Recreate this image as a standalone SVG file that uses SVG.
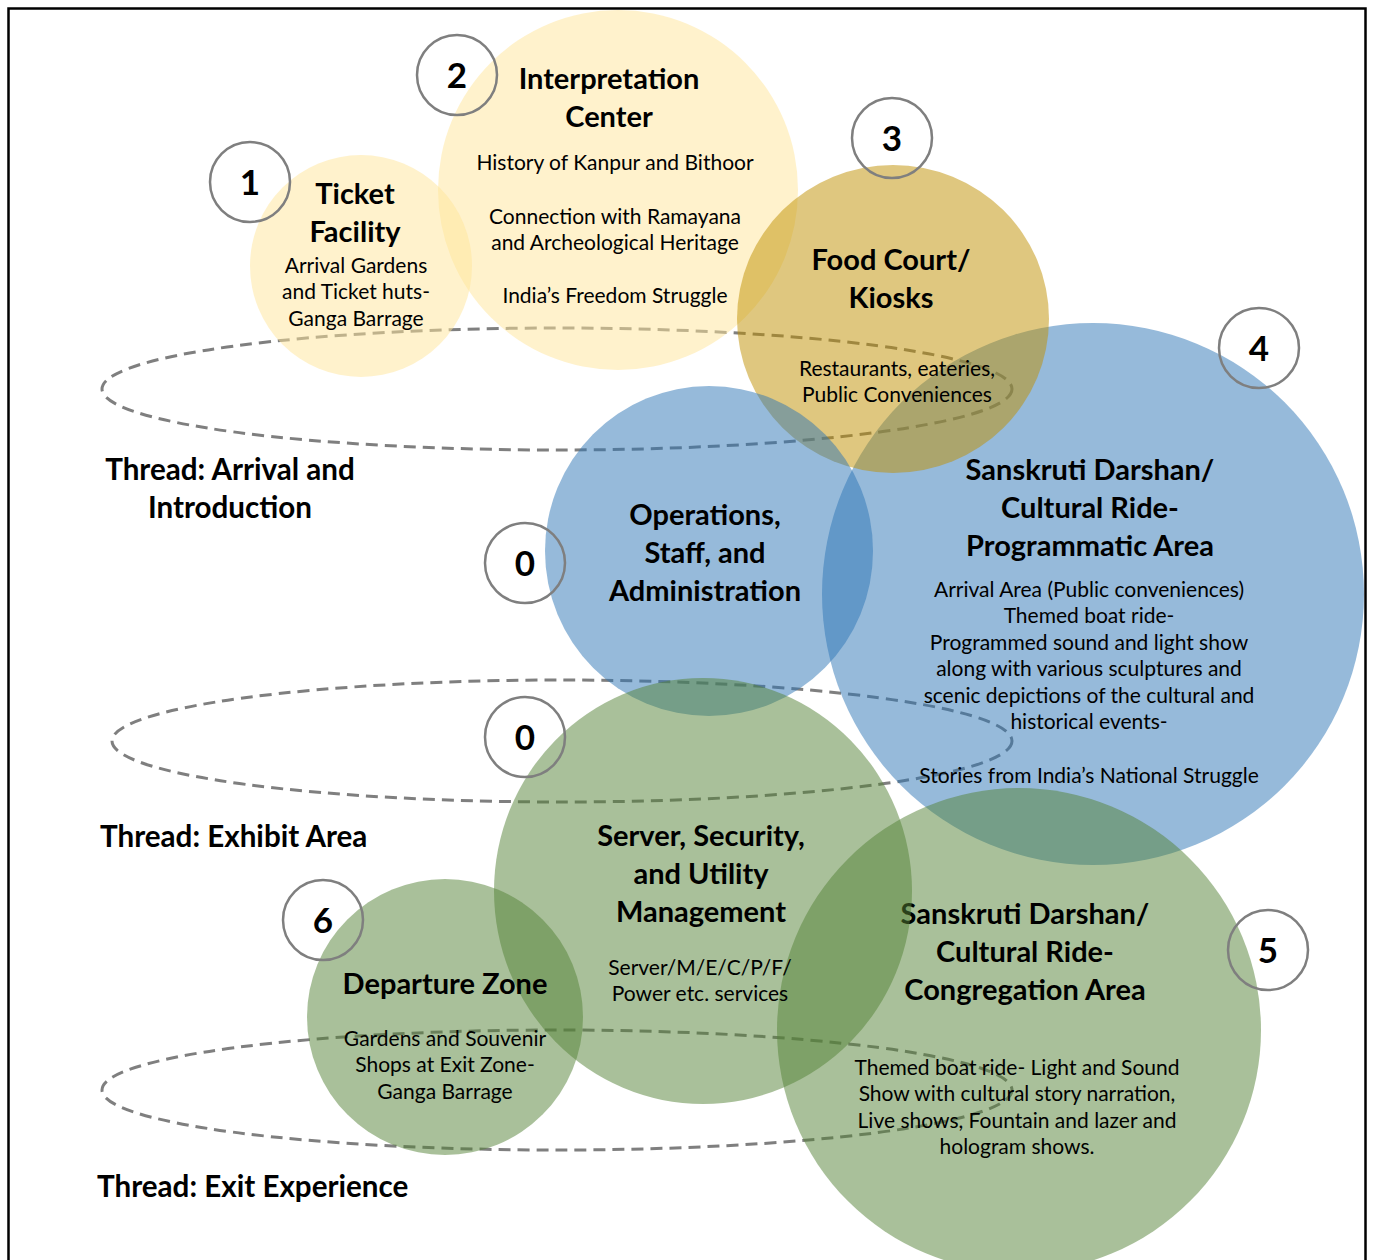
<svg xmlns="http://www.w3.org/2000/svg" width="1373" height="1260" viewBox="0 0 1373 1260">
<style>
.thr{fill:none;stroke:#7F7F7F;stroke-width:3;stroke-dasharray:12 7}
.y{fill:#FFE699;fill-opacity:.5}
.gd{fill:#BF9000;fill-opacity:.5}
.bl{fill:#2E75B6;fill-opacity:.5}
.gr{fill:#548235;fill-opacity:.5}
.num{fill:none;stroke:#7F7F7F;stroke-width:2.5}
text{font-family:Lato,"Noto Sans","Liberation Sans",sans-serif;fill:#000;text-anchor:middle}
.t{font-size:29px;font-weight:bold}
.b{font-size:21px}
.n{font-size:35px;font-weight:bold}
.lab{font-size:29.6px;font-weight:bold}
</style>
<rect x="0" y="0" width="1373" height="1260" fill="#fff"/>
<rect x="8.5" y="8.5" width="1357" height="1270" fill="none" stroke="#000" stroke-width="2.5"/>
<g id="threads">
<ellipse class="thr" cx="557" cy="389" rx="455" ry="61"/>
<ellipse class="thr" cx="562" cy="741" rx="450" ry="61"/>
<ellipse class="thr" cx="557" cy="1090" rx="455" ry="60"/>
</g>
<g id="thread-labels">
<text class="lab" x="230" y="480">Thread: Arrival and</text>
<text class="lab" x="230" y="518">Introduction</text>
<text class="lab" x="100" y="847" style="text-anchor:start">Thread: Exhibit Area</text>
<text class="lab" x="97" y="1197" style="text-anchor:start">Thread: Exit Experience</text>
</g>
<g id="node-2-interpretation">
<ellipse class="y" cx="618" cy="190" rx="180" ry="180"/>
<circle class="num" cx="457" cy="75" r="40"/>
<text class="n" x="457" y="88">2</text>
<text class="t" x="609" y="89">Interpretation</text>
<text class="t" x="609" y="127">Center</text>
<text class="b" x="615" y="170">History of Kanpur and Bithoor</text>
<text class="b" x="615" y="224">Connection with Ramayana</text>
<text class="b" x="615" y="250">and Archeological Heritage</text>
<text class="b" x="615" y="303">India’s Freedom Struggle</text>
</g>
<g id="node-1-ticket">
<ellipse class="y" cx="361" cy="266" rx="111" ry="111"/>
<circle class="num" cx="250" cy="182" r="40"/>
<text class="n" x="250" y="195">1</text>
<text class="t" x="355" y="204">Ticket</text>
<text class="t" x="355" y="242">Facility</text>
<text class="b" x="356" y="273">Arrival Gardens</text>
<text class="b" x="356" y="299">and Ticket huts-</text>
<text class="b" x="356" y="326">Ganga Barrage</text>
</g>
<g id="node-4-programmatic">
<ellipse class="bl" cx="1093" cy="594" rx="271" ry="271"/>
<circle class="num" cx="1259" cy="348" r="40"/>
<text class="n" x="1259" y="361">4</text>
<text class="t" x="1090" y="480">Sanskruti Darshan/</text>
<text class="t" x="1090" y="518">Cultural Ride-</text>
<text class="t" x="1090" y="556">Programmatic Area</text>
<text class="b" x="1089" y="597">Arrival Area (Public conveniences)</text>
<text class="b" x="1089" y="623">Themed boat ride-</text>
<text class="b" x="1089" y="650">Programmed sound and light show</text>
<text class="b" x="1089" y="676">along with various sculptures and</text>
<text class="b" x="1089" y="703">scenic depictions of the cultural and</text>
<text class="b" x="1089" y="729">historical events-</text>
<text class="b" x="1089" y="783">Stories from India’s National Struggle</text>
</g>
<g id="node-3-food">
<ellipse class="gd" cx="893" cy="319" rx="156" ry="154"/>
<circle class="num" cx="892" cy="138" r="40"/>
<text class="n" x="892" y="151">3</text>
<text class="t" x="891" y="270">Food Court/</text>
<text class="t" x="891" y="308">Kiosks</text>
<text class="b" x="897" y="376">Restaurants, eateries,</text>
<text class="b" x="897" y="402">Public Conveniences</text>
</g>
<g id="node-0-operations">
<ellipse class="bl" cx="709" cy="551" rx="164" ry="165"/>
<circle class="num" cx="525" cy="563" r="40"/>
<text class="n" x="525" y="576">0</text>
<text class="t" x="705" y="525">Operations,</text>
<text class="t" x="705" y="563">Staff, and</text>
<text class="t" x="705" y="601">Administration</text>
</g>
<g id="node-5-congregation">
<ellipse class="gr" cx="1019" cy="1030" rx="242" ry="242"/>
<circle class="num" cx="1268" cy="950" r="40"/>
<text class="n" x="1268" y="963">5</text>
<text class="t" x="1025" y="924">Sanskruti Darshan/</text>
<text class="t" x="1025" y="962">Cultural Ride-</text>
<text class="t" x="1025" y="1000">Congregation Area</text>
<text class="b" x="1017" y="1075">Themed boat ride- Light and Sound</text>
<text class="b" x="1017" y="1101">Show with cultural story narration,</text>
<text class="b" x="1017" y="1128">Live shows, Fountain and lazer and</text>
<text class="b" x="1017" y="1154">hologram shows.</text>
</g>
<g id="node-0-server">
<ellipse class="gr" cx="703" cy="891" rx="209" ry="213"/>
<circle class="num" cx="525" cy="737" r="40"/>
<text class="n" x="525" y="750">0</text>
<text class="t" x="701" y="846">Server, Security,</text>
<text class="t" x="701" y="884">and Utility</text>
<text class="t" x="701" y="922">Management</text>
<text class="b" x="700" y="975">Server/M/E/C/P/F/</text>
<text class="b" x="700" y="1001">Power etc. services</text>
</g>
<g id="node-6-departure">
<ellipse class="gr" cx="445" cy="1017" rx="138" ry="138"/>
<circle class="num" cx="323" cy="920" r="40"/>
<text class="n" x="323" y="933">6</text>
<text class="t" x="445" y="994">Departure Zone</text>
<text class="b" x="445" y="1046">Gardens and Souvenir</text>
<text class="b" x="445" y="1072">Shops at Exit Zone-</text>
<text class="b" x="445" y="1099">Ganga Barrage</text>
</g>
</svg>
